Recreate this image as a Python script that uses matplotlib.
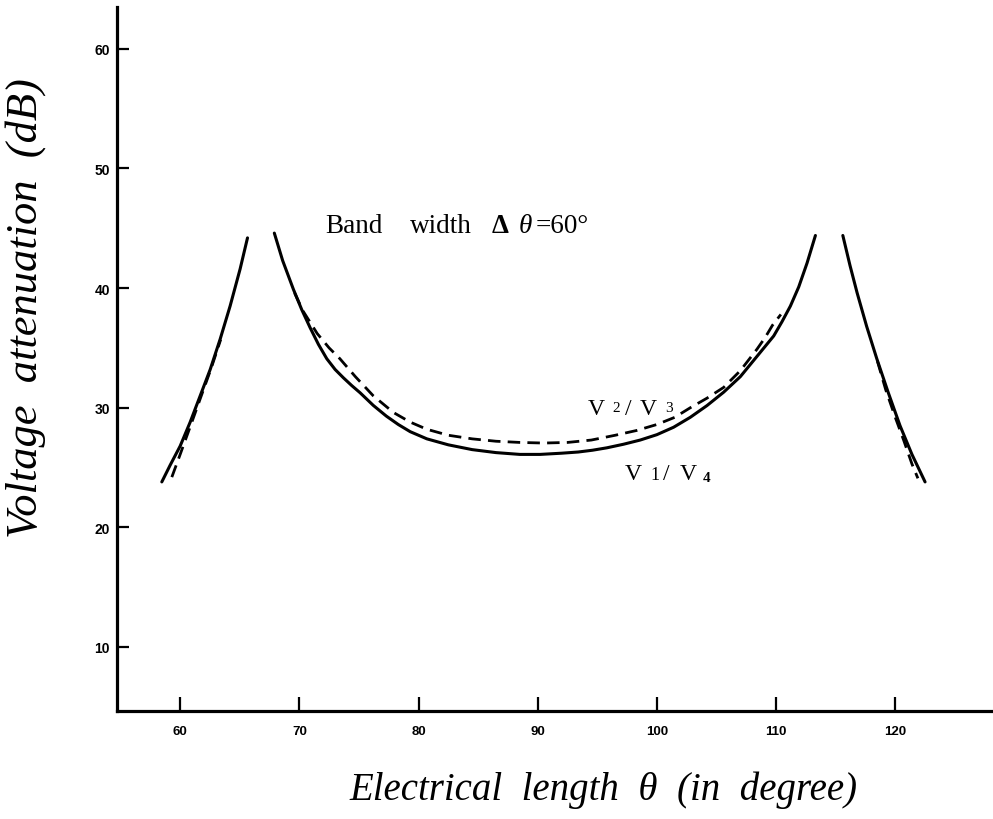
import matplotlib
matplotlib.use('Agg')
import matplotlib.pyplot as plt

# ─── Daten ────────────────────────────────────────────────────────────────────

# V1/V4 (durchgezogen)
v14_left_theta = [58.46, 59.16, 60.0, 60.84, 61.68, 62.52, 63.36, 64.19, 65.03, 65.65]
v14_left_db    = [23.8, 25.2, 26.8, 28.8, 31.0, 33.2, 35.75, 38.5, 41.6, 44.2]

v14_mid_theta = [67.9, 68.6, 69.5, 70.2, 70.9, 71.6, 72.3, 73.0, 73.7, 74.4,
                 75.1, 76.2, 77.3, 78.3, 79.3, 80.7, 82.5, 84.5, 86.5, 88.5,
                 90.2, 92.0, 93.4, 94.6, 95.8, 97.2, 98.6, 100.0, 101.4, 102.8,
                 104.2, 105.6, 107.0, 108.4, 109.8, 110.5, 111.2, 111.9, 112.6, 113.3]
v14_mid_db    = [44.6, 42.3, 39.9, 38.2, 36.7, 35.3, 34.1, 33.2, 32.5, 31.85,
                 31.25, 30.2, 29.3, 28.6, 28.0, 27.4, 26.9, 26.5, 26.25, 26.1,
                 26.1, 26.2, 26.3, 26.45, 26.65, 26.95, 27.3, 27.75, 28.37, 29.2,
                 30.18, 31.3, 32.6, 34.3, 36.0, 37.2, 38.5, 40.1, 42.1, 44.4]

v14_right_theta = [115.6, 116.2, 116.8, 117.6, 118.45, 119.4, 120.4, 121.4, 122.5]
v14_right_db    = [44.4, 41.9, 39.6, 36.8, 34.1, 31.3, 28.5, 26.1, 23.8]

# V2/V3 (gestrichelt)
v23_left_theta = [59.3, 60.0, 60.8, 61.7, 62.6, 63.4]
v23_left_db    = [24.2, 26.1, 28.3, 30.8, 33.3, 35.7]

v23_mid_theta = [69.6, 70.3, 71.5, 72.5, 73.4, 74.7, 76.2, 77.9, 79.3, 80.7,
                 82.5, 84.5, 86.5, 88.5, 90.5, 92.5, 94.5, 96.5, 98.3, 100.0,
                 101.5, 102.8, 104.2, 105.6, 107.0, 108.4, 109.1, 109.7, 110.4]
v23_mid_db    = [39.6, 38.1, 36.2, 35.0, 34.1, 32.6, 31.0, 29.6, 28.8, 28.2,
                 27.7, 27.4, 27.2, 27.1, 27.05, 27.1, 27.3, 27.7, 28.1, 28.6,
                 29.2, 30.0, 30.8, 31.7, 33.1, 34.9, 35.9, 36.9, 37.8]

v23_right_theta = [118.5, 119.2, 120.0, 120.7, 121.4, 121.9]
v23_right_db    = [33.9, 31.5, 29.2, 27.3, 25.3, 24.1]

x_ticks = [60, 70, 80, 90, 100, 110, 120]
x_tick_labels = ['60', '70', '80', '90', '100', '110', '120']
y_ticks = [10, 20, 30, 40, 50, 60]
y_tick_labels = ['10', '20', '30', '40', '50', '60']

SERIF = 'Liberation Serif'
TICKFONT = 'Liberation Sans'

fig = plt.figure(figsize=(9.93, 8.2), dpi=100)
ax = fig.add_axes([117 / 993, 1 - 712 / 820, 1 - 117 / 993, 704 / 820])

solid = dict(color='black', lw=2.2, solid_capstyle='round', solid_joinstyle='round')
dashed = dict(color='black', lw=2.0, ls=(0, (4.5, 2.6)))

for th, db in [(v14_left_theta, v14_left_db), (v14_mid_theta, v14_mid_db),
               (v14_right_theta, v14_right_db)]:
    ax.plot(th, db, **solid)
for th, db in [(v23_left_theta, v23_left_db), (v23_mid_theta, v23_mid_db),
               (v23_right_theta, v23_right_db)]:
    ax.plot(th, db, **dashed)

ax.set_xlim(54.7, 128.2)
ax.set_ylim(4.65, 63.5)

for side in ['top', 'right']:
    ax.spines[side].set_visible(False)
for side in ['left', 'bottom']:
    ax.spines[side].set_linewidth(2.3)

ax.set_xticks(x_ticks)
ax.set_xticklabels(x_tick_labels, fontfamily=TICKFONT, fontweight='bold', fontsize=9.5)
ax.set_yticks(y_ticks)
ax.set_yticklabels(y_tick_labels, fontfamily=TICKFONT, fontweight='bold', fontsize=10)
ax.tick_params(axis='x', direction='in', length=10, width=1.6, pad=10)
ax.tick_params(axis='y', direction='in', length=8.5, width=1.6, pad=5)

# ─── Beschriftungen ──────────────────────────────────────────────────────────
base = 44.7
ax.text(72.16, base, 'Band', family=SERIF, fontsize=19.5, va='baseline')
ax.text(79.30, base, 'width', family=SERIF, fontsize=19.5, va='baseline')
ax.text(86.17, base, 'Δ', family=SERIF, fontweight='bold', fontsize=19.5, va='baseline')
ax.text(88.36, base, 'θ', family=SERIF, style='italic', fontsize=19.5, va='baseline')
ax.text(89.85, base, '=60°', family=SERIF, fontsize=19.5, va='baseline')

# V2/V3
ax.text(94.23, 29.48, 'V', family=SERIF, fontsize=17, va='baseline')
ax.text(96.24, 29.75, '2', family=SERIF, fontsize=11, va='baseline')
ax.text(97.33, 29.48, '/', family=SERIF, fontsize=17, va='baseline')
ax.text(98.59, 29.48, 'V', family=SERIF, fontsize=17, va='baseline')
ax.text(100.69, 29.75, '3', family=SERIF, fontsize=11, va='baseline')

# V1/V4
ax.text(97.33, 24.05, 'V', family=SERIF, fontsize=17, va='baseline')
ax.text(99.43, 24.05, '1', family=SERIF, fontsize=13, va='baseline')
ax.text(100.52, 24.05, '/', family=SERIF, fontsize=17, va='baseline')
ax.text(101.95, 24.05, 'V', family=SERIF, fontsize=17, va='baseline')
ax.text(103.88, 23.9, '4', family=SERIF, fontsize=11, fontweight='bold', va='baseline')

fig.text(26 / 993, 1 - 308 / 820, 'Voltage  attenuation  (dB)', family=SERIF,
         style='italic', fontsize=32, rotation=90, ha='center', va='center')
fig.text(604 / 993, 1 - 790 / 820, 'Electrical  length  θ  (in  degree)', family=SERIF,
         style='italic', fontsize=28, ha='center', va='center')

fig.savefig('out.png', dpi=100, facecolor='white')
